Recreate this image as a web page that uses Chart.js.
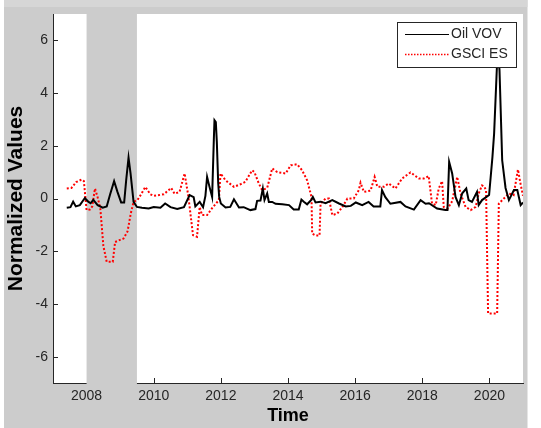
<!DOCTYPE html>
<html>
<head>
<meta charset="utf-8">
<script src="https://cdn.jsdelivr.net/npm/chart.js@4/dist/chart.umd.min.js"></script>
<style>
  html, body { margin: 0; padding: 0; background: #ffffff; }
  #wrap { width: 541px; height: 428px; position: relative; }
  canvas { display: block; }
</style>
</head>
<body>
<div id="wrap"><canvas id="c" width="541" height="428"></canvas></div>
<script>
// Oil volatility-of-volatility, normalized
const oilTimes = [2007.41, 2007.52, 2007.60, 2007.68, 2007.80, 2007.95, 2008.05, 2008.12, 2008.20, 2008.33,
  2008.48, 2008.60, 2008.70, 2008.82, 2008.92, 2009.03, 2009.12, 2009.18, 2009.25, 2009.31,
  2009.40, 2009.50, 2009.65, 2009.85, 2010.00, 2010.20, 2010.34, 2010.50, 2010.70, 2010.90,
  2011.07, 2011.19, 2011.24, 2011.37, 2011.47, 2011.54, 2011.59, 2011.66, 2011.74, 2011.79,
  2011.81, 2011.85, 2011.88, 2011.92, 2011.95, 2012.00, 2012.14, 2012.28, 2012.39, 2012.54,
  2012.68, 2012.88, 2013.03, 2013.08, 2013.18, 2013.25, 2013.30, 2013.38, 2013.43, 2013.53,
  2013.63, 2013.83, 2014.03, 2014.17, 2014.32, 2014.40, 2014.47, 2014.57, 2014.70, 2014.74,
  2014.82, 2014.97, 2015.12, 2015.32, 2015.52, 2015.72, 2015.87, 2016.02, 2016.21, 2016.40,
  2016.55, 2016.75, 2016.80, 2016.90, 2017.05, 2017.35, 2017.50, 2017.75, 2017.95, 2018.10,
  2018.20, 2018.44, 2018.69, 2018.75, 2018.80, 2018.89, 2018.99, 2019.09, 2019.19, 2019.31,
  2019.38, 2019.48, 2019.63, 2019.68, 2019.78, 2019.99, 2020.09, 2020.14, 2020.21, 2020.24,
  2020.27, 2020.30, 2020.38, 2020.48, 2020.58, 2020.73, 2020.83, 2020.93, 2021.00];
const oilValues = [-0.35, -0.33, -0.12, -0.30, -0.25, 0.02, -0.12, -0.18, -0.05, -0.25,
  -0.35, -0.30, 0.15, 0.66, 0.25, -0.15, -0.15, 0.70, 1.55, 0.95,
  -0.13, -0.32, -0.35, -0.38, -0.32, -0.35, -0.19, -0.33, -0.40, -0.33,
  0.13, 0.05, -0.30, -0.13, -0.33, 0.10, 0.82, 0.45, 0.06, 2.20,
  2.97, 2.90, 2.15, 0.60, 0.06, -0.19, -0.34, -0.32, -0.03, -0.34,
  -0.33, -0.44, -0.40, -0.09, -0.08, 0.38, -0.06, 0.19, -0.13, -0.13,
  -0.20, -0.22, -0.25, -0.42, -0.42, -0.04, -0.12, -0.22, -0.04, 0.06,
  -0.15, -0.12, -0.18, -0.06, -0.19, -0.30, -0.28, -0.15, -0.25, -0.13,
  -0.30, -0.30, 0.32, 0.05, -0.20, -0.13, -0.30, -0.42, -0.06, -0.20,
  -0.18, -0.38, -0.44, -0.44, 1.39, 0.95, 0.06, -0.25, 0.20, 0.38,
  -0.06, -0.13, 0.25, -0.25, -0.06, 0.13, 1.58, 2.47, 4.61, 5.50,
  5.40, 4.87, 1.45, 0.40, -0.06, 0.32, 0.32, -0.25, -0.15];

// GSCI expected shortfall, normalized
const esTimes = [2007.41, 2007.55, 2007.69, 2007.85, 2007.92, 2008.00, 2008.10, 2008.17, 2008.25, 2008.33,
  2008.41, 2008.50, 2008.60, 2008.78, 2008.85, 2008.98, 2009.10, 2009.22, 2009.32, 2009.40,
  2009.52, 2009.62, 2009.75, 2009.90, 2010.00, 2010.30, 2010.52, 2010.62, 2010.77, 2010.92,
  2011.02, 2011.07, 2011.17, 2011.29, 2011.37, 2011.44, 2011.59, 2011.75, 2011.94, 2011.99,
  2012.14, 2012.39, 2012.60, 2012.73, 2012.93, 2013.00, 2013.13, 2013.23, 2013.38, 2013.53,
  2013.68, 2013.93, 2014.08, 2014.27, 2014.42, 2014.57, 2014.70, 2014.72, 2014.82, 2014.94,
  2014.97, 2015.12, 2015.22, 2015.32, 2015.47, 2015.62, 2015.77, 2015.96, 2016.11, 2016.16,
  2016.26, 2016.46, 2016.58, 2016.66, 2016.86, 2017.00, 2017.20, 2017.40, 2017.65, 2017.90,
  2018.05, 2018.19, 2018.29, 2018.40, 2018.49, 2018.59, 2018.64, 2018.76, 2018.89, 2019.04,
  2019.14, 2019.29, 2019.44, 2019.59, 2019.68, 2019.78, 2019.85, 2019.90, 2019.96, 2020.23,
  2020.28, 2020.43, 2020.58, 2020.72, 2020.85, 2020.92, 2021.00];
const esValues = [0.38, 0.40, 0.62, 0.72, 0.66, -0.44, -0.42, -0.30, 0.38, 0.05,
  -0.39, -1.80, -2.40, -2.40, -1.65, -1.58, -1.52, -1.25, -0.55, -0.13,
  -0.05, 0.15, 0.44, 0.16, 0.10, 0.16, 0.40, 0.18, 0.25, 0.95,
  0.18, -0.32, -1.39, -1.45, -0.32, -0.63, -0.63, -0.35, -0.06, 0.95,
  0.69, 0.44, 0.55, 0.63, 1.07, 1.00, 0.57, 0.32, 0.40, 1.14,
  1.00, 0.95, 1.26, 1.30, 1.07, 0.69, 0.06, -1.33, -1.40, -1.40,
  -0.19, 0.00, 0.00, -0.63, -0.57, -0.32, 0.00, 0.00, 0.32, 0.60,
  0.25, 0.30, 0.82, 0.45, 0.45, 0.57, 0.38, 0.76, 0.99, 0.76,
  0.76, 0.85, -0.19, -0.25, 0.38, 0.66, -0.32, -0.38, -0.10, 0.82,
  0.19, -0.32, -0.44, -0.32, 0.19, 0.50, 0.45, 0.30, -4.36, -4.36,
  -0.19, 0.00, 0.19, 0.13, 1.10, 0.60, 0.10];

const seriesNames = ['Oil VOV', 'GSCI ES'];
const xTickValues = [2008, 2010, 2012, 2014, 2016, 2018, 2020];
const yTickValues = [-6, -4, -2, 0, 2, 4, 6];
const recessionSpan = [2008.0, 2009.5];

const AXIS_COLOR = '#262626';
const FIG_GRAY = '#cccccc';
const FONT = '"Liberation Sans", Arial, Helvetica, sans-serif';

// figure background and white axes area
const framePlugin = {
  id: 'frame',
  beforeDraw(chart) {
    const { ctx, chartArea: a } = chart;
    ctx.save();
    ctx.fillStyle = '#ffffff';
    ctx.fillRect(0, 0, chart.width, chart.height);
    ctx.fillStyle = FIG_GRAY;
    ctx.fillRect(4, 0, 523.5, chart.height);
    ctx.fillStyle = '#d6d6d6';
    ctx.fillRect(4, 0, 523.5, 7);
    ctx.fillStyle = '#ffffff';
    ctx.fillRect(a.left, a.top, a.right - a.left, a.bottom - a.top);
    ctx.restore();
  }
};

// inward tick marks, then the shaded recession band over the axis line
const shadePlugin = {
  id: 'shade',
  beforeDatasetsDraw(chart) {
    const { ctx, chartArea: a, scales: { x, y } } = chart;
    ctx.save();
    ctx.strokeStyle = AXIS_COLOR;
    ctx.lineWidth = 1;
    ctx.beginPath();
    x.ticks.forEach(t => {
      const px = Math.round(x.getPixelForValue(t.value)) + 0.5;
      ctx.moveTo(px, a.bottom);
      ctx.lineTo(px, a.bottom - 5);
    });
    y.ticks.forEach(t => {
      const py = Math.round(y.getPixelForValue(t.value)) + 0.5;
      ctx.moveTo(a.left, py);
      ctx.lineTo(a.left + 5, py);
    });
    ctx.stroke();
    const x0 = x.getPixelForValue(recessionSpan[0]);
    const x1 = x.getPixelForValue(recessionSpan[1]);
    ctx.fillStyle = FIG_GRAY;
    ctx.fillRect(x0, a.top, x1 - x0, a.bottom - a.top + 2);
    ctx.restore();
  }
};

// boxed legend in the upper right corner of the axes
const boxLegendPlugin = {
  id: 'boxLegend',
  afterDatasetsDraw(chart) {
    const { ctx } = chart;
    const bx = 397, by = 22, bw = 120, bh = 46;
    ctx.save();
    ctx.fillStyle = '#ffffff';
    ctx.fillRect(bx, by, bw, bh);
    ctx.strokeStyle = AXIS_COLOR;
    ctx.lineWidth = 1;
    ctx.strokeRect(bx + 0.5, by + 0.5, bw - 1, bh - 1);
    const rows = [34, 54];
    chart.data.datasets.forEach((ds, i) => {
      const yy = rows[i] + 0.5;
      ctx.beginPath();
      ctx.strokeStyle = ds.borderColor;
      ctx.lineWidth = i === 0 ? 1 : 1.5;
      ctx.setLineDash(i === 0 ? [] : [1.5, 1.5]);
      ctx.moveTo(405, yy);
      ctx.lineTo(449, yy);
      ctx.stroke();
      ctx.setLineDash([]);
      ctx.fillStyle = AXIS_COLOR;
      ctx.font = '14px ' + FONT;
      ctx.textBaseline = 'middle';
      ctx.textAlign = 'left';
      ctx.fillText(ds.label, 451, rows[i]);
    });
    ctx.restore();
  }
};

const toPoints = (ts, vs) => ts.map((t, i) => ({ x: t, y: vs[i] }));

new Chart(document.getElementById('c'), {
  type: 'line',
  data: {
    datasets: [
      {
        label: seriesNames[0],
        data: toPoints(oilTimes, oilValues),
        borderColor: '#000000',
        borderWidth: 2,
        pointRadius: 0,
        tension: 0,
        fill: false
      },
      {
        label: seriesNames[1],
        data: toPoints(esTimes, esValues),
        borderColor: '#ff0000',
        borderWidth: 2,
        borderDash: [2, 2],
        pointRadius: 0,
        tension: 0,
        fill: false
      }
    ]
  },
  options: {
    responsive: false,
    animation: false,
    devicePixelRatio: 1,
    layout: { padding: { left: 0, top: 14, right: 18, bottom: 0 } },
    plugins: { legend: { display: false }, tooltip: { enabled: false } },
    scales: {
      x: {
        type: 'linear',
        position: 'bottom',
        min: 2007,
        max: 2021,
        grid: { display: false, drawTicks: false },
        border: { display: true, color: AXIS_COLOR, width: 1 },
        afterBuildTicks: s => { s.ticks = xTickValues.map(v => ({ value: v })); },
        afterFit: s => { s.height = 45; },
        ticks: {
          color: AXIS_COLOR,
          font: { family: FONT, size: 14 },
          padding: 5,
          maxRotation: 0,
          autoSkip: false,
          callback: v => String(v)
        },
        title: {
          display: true,
          text: 'Time',
          color: '#000000',
          font: { family: FONT, size: 18, weight: 'bold' },
          padding: { top: 0, bottom: 1 }
        }
      },
      y: {
        type: 'linear',
        position: 'left',
        min: -7,
        max: 7,
        grid: { display: false, drawTicks: false },
        border: { display: true, color: AXIS_COLOR, width: 1 },
        afterBuildTicks: s => { s.ticks = yTickValues.map(v => ({ value: v })); },
        afterFit: s => { s.width = 53; },
        ticks: {
          color: AXIS_COLOR,
          font: { family: FONT, size: 14 },
          padding: 5,
          autoSkip: false,
          callback: v => String(v)
        },
        title: {
          display: true,
          text: 'Normalized Values',
          color: '#000000',
          font: { family: FONT, size: 21, weight: 'bold' },
          padding: { top: 4, bottom: 0 }
        }
      }
    }
  },
  plugins: [framePlugin, shadePlugin, boxLegendPlugin]
});
</script>
</body>
</html>
